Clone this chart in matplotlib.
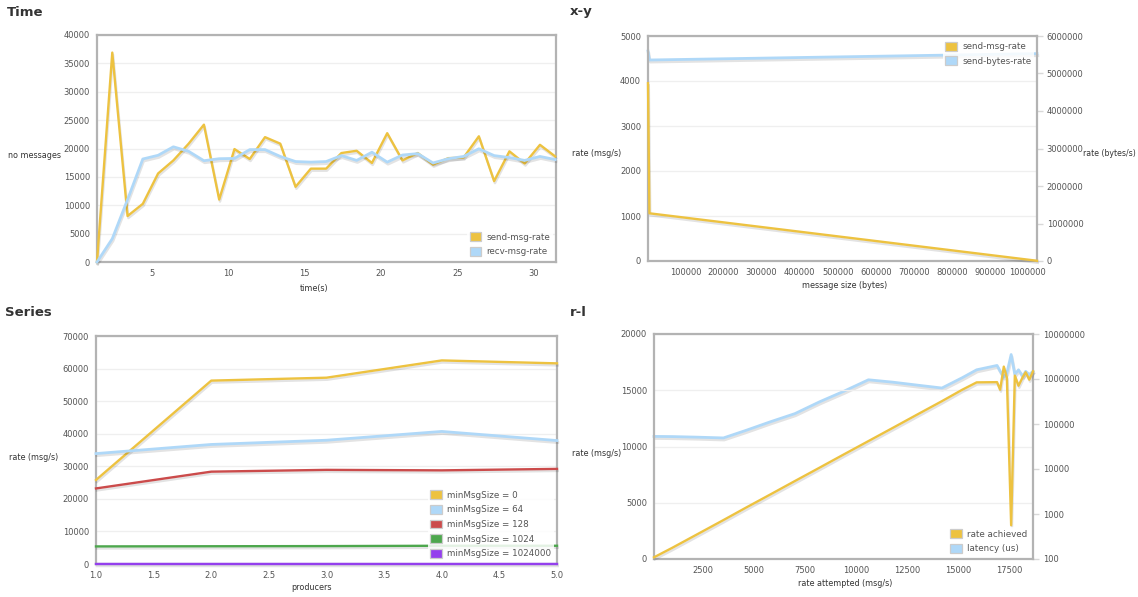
import matplotlib.pyplot as plt
import matplotlib.patheffects as pe
from matplotlib.patches import Patch
from matplotlib.ticker import FixedLocator, NullLocator, FuncFormatter

# flot default colours
YELLOW = '#edc240'
BLUE = '#afd8f8'
RED = '#cb4b4b'
GREEN = '#4da74d'
PURPLE = '#9440ed'

# --- Time ---
times = [1.4, 2.4, 3.4, 4.4, 5.4, 6.4, 7.4, 8.4, 9.4, 10.4, 11.4, 12.4, 13.4, 14.4, 15.4, 16.4,
         17.4, 18.4, 19.4, 20.4, 21.4, 22.4, 23.4, 24.4, 25.4, 26.4, 27.4, 28.4, 29.4, 30.4, 31.4]
send_rate = [0, 36900, 8100, 10250, 15600, 17900, 20850, 24200, 11000, 19900, 18150, 22000, 20850,
             13250, 16450, 16450, 19200, 19600, 17450, 22700, 17900, 19200, 17150, 18300, 18400,
             22150, 14250, 19500, 17350, 20650, 18600]
recv_rate = [0, 4100, 11000, 18150, 18800, 20300, 19500, 17850, 18200, 18250, 19800, 19800, 18600,
             17700, 17600, 17700, 18750, 17900, 19350, 17600, 18850, 19100, 17450, 18200, 18600,
             19950, 18750, 18400, 17900, 18600, 18050]

# --- x-y ---
msg_size = [1400, 5200, 1024000]
send_msg_rate = [3950, 1060, 5.4]
send_bytes_rate = [5600000, 5360000, 5530000]

# --- Series ---
producers = [1, 2, 3, 4, 5]
series_labels = ['minMsgSize = 0', 'minMsgSize = 64', 'minMsgSize = 128',
                 'minMsgSize = 1024', 'minMsgSize = 1024000']
rate_0 = [25800, 56300, 57200, 62500, 61600]
rate_64 = [33900, 36700, 38000, 40700, 37900]
rate_128 = [23200, 28350, 28900, 28750, 29200]
rate_1024 = [5400, 5450, 5500, 5600, 5600]
rate_1024000 = [5.4, 5.5, 5.5, 5.4, 5.5]

# --- r-l ---
rate_attempted = [100, 1000, 2200, 3500, 4600, 5800, 7000, 8200, 9400, 10600, 11800, 13000, 14200,
                  15200, 15900, 16900, 17050, 17230, 17380, 17590, 17770, 17950, 18160, 18300,
                  18480, 18660]
rate_achieved = [150, 1000, 2180, 3460, 4560, 5740, 6930, 8110, 9300, 10480, 11660, 12850, 14030,
                 15050, 15700, 15720, 15050, 17100, 16100, 3000, 16300, 15400, 16180, 16600,
                 15940, 16680]
latency = [53000, 52500, 51000, 49000, 72000, 112000, 170000, 310000, 535000, 960000, 850000,
           730000, 630000, 1070000, 1600000, 2000000, 1500000, 1100000, 1350000, 3500000,
           1260000, 1600000, 1150000, 1480000, 1260000, 1480000]

W, H = 1138, 597
fig = plt.figure(figsize=(W / 100, H / 100), dpi=100)
TXT = '#545454'
TICK_FS = 6.0
plain = FuncFormatter(lambda v, p: f'{int(round(v))}')


def box(l, t, r, b):
    return [l / W, 1 - b / H, (r - l) / W, (b - t) / H]


def text(x, y, s, **kw):
    fig.text(x / W, 1 - y / H, s, **kw)


shadow = [pe.SimpleLineShadow(offset=(0.6, -1.5), shadow_color='k', alpha=0.11), pe.Normal()]


def style(ax):
    for sp in ax.spines.values():
        sp.set_color('#b3b3b3')
        sp.set_linewidth(1.6)
    ax.tick_params(length=0, labelsize=TICK_FS, colors=TXT, pad=5)
    ax.grid(axis='y', color='#efefef', linewidth=0.9)
    ax.set_axisbelow(True)


def plot(ax, x, y, c, lw=1.7):
    ax.plot(x, y, color=c, lw=lw, path_effects=shadow, solid_joinstyle='round',
            clip_on=False, zorder=3)


def legend(ax, colors, labels, loc):
    hs = [Patch(facecolor=c, edgecolor='#cccccc', linewidth=0.9) for c in colors]
    lg = ax.legend(hs, labels, loc=loc, fontsize=6.3, frameon=True, framealpha=0.85,
                   facecolor='white', edgecolor='none', handlelength=1.35, handleheight=1.2,
                   handletextpad=0.6, labelspacing=0.6, borderaxespad=0.35, borderpad=0.3)
    for t in lg.get_texts():
        t.set_color(TXT)
    lg.set_zorder(10)


def right_axis(ax2):
    for sp in ax2.spines.values():
        sp.set_visible(False)
    ax2.tick_params(axis='y', length=4, width=1, color='#d8d8d8', labelsize=TICK_FS,
                    labelcolor=TXT, pad=3)


title_kw = dict(fontsize=9.5, fontweight='bold', color='#333333', va='center', ha='left')
lab_kw = dict(fontsize=5.8, color='#333333', va='center', ha='center')

# ---------------- Time ----------------
ax = fig.add_axes(box(97, 35, 556, 262))
style(ax)
plot(ax, times, send_rate, YELLOW)
plot(ax, times, recv_rate, BLUE, lw=2.0)
ax.set_xlim(times[0], 31.45)
ax.set_ylim(0, 40000)
ax.set_xticks([5, 10, 15, 20, 25, 30])
ax.set_yticks(range(0, 40001, 5000))
legend(ax, [YELLOW, BLUE], ['send-msg-rate', 'recv-msg-rate'], 'lower right')
text(7, 12, 'Time', **title_kw)
text(34, 155, 'no messages', **lab_kw)
text(314, 289, 'time(s)', **lab_kw)

# ---------------- x-y ----------------
ax = fig.add_axes(box(648, 36, 1037, 261))
style(ax)
ax2 = ax.twinx()
right_axis(ax2)
plot(ax2, msg_size, send_bytes_rate, BLUE, lw=2.0)
plot(ax, msg_size, send_msg_rate, YELLOW)
ax.set_zorder(ax2.get_zorder() + 1)
ax.patch.set_visible(False)
ax.set_xlim(msg_size[0], msg_size[-1])
ax.set_ylim(0, 5000)
ax2.set_ylim(0, 6000000)
ax.set_xticks(range(100000, 1000001, 100000))
ax.set_yticks(range(0, 5001, 1000))
ax2.set_yticks(range(0, 6000001, 1000000))
ax.xaxis.set_major_formatter(plain)
ax2.yaxis.set_major_formatter(plain)
legend(ax, [YELLOW, BLUE], ['send-msg-rate', 'send-bytes-rate'], 'upper right')
text(570, 12, 'x-y', **title_kw)
text(597, 154, 'rate (msg/s)', **lab_kw)
text(1083, 154, 'rate (bytes/s)', **dict(lab_kw, ha='left', fontsize=5.6))
text(845, 285, 'message size (bytes)', **lab_kw)

# ---------------- Series ----------------
ax = fig.add_axes(box(96, 336, 557, 564))
style(ax)
series_vals = [rate_0, rate_64, rate_128, rate_1024, rate_1024000]
series_cols = [YELLOW, BLUE, RED, GREEN, PURPLE]
for vals, c in zip(series_vals, series_cols):
    plot(ax, producers, vals, c, lw=2.0 if c == BLUE else 1.7)
ax.set_xlim(1, 5)
ax.set_ylim(0, 70000)
ax.set_xticks([1.0, 1.5, 2.0, 2.5, 3.0, 3.5, 4.0, 4.5, 5.0])
ax.xaxis.set_major_formatter(FuncFormatter(lambda v, p: f'{v:.1f}'))
ax.set_yticks(range(0, 70001, 10000))
legend(ax, series_cols, series_labels, 'lower right')
text(5, 313, 'Series', **title_kw)
text(34, 457, 'rate (msg/s)', **lab_kw)
text(312, 588, 'producers', **lab_kw)

# ---------------- r-l ----------------
ax = fig.add_axes(box(654, 334, 1033, 559))
style(ax)
ax2 = ax.twinx()
right_axis(ax2)
plot(ax2, rate_attempted, latency, BLUE, lw=2.0)
plot(ax, rate_attempted, rate_achieved, YELLOW)
ax.set_zorder(ax2.get_zorder() + 1)
ax.patch.set_visible(False)
ax.set_xlim(rate_attempted[0], rate_attempted[-1])
ax.set_ylim(0, 20000)
ax.set_xticks(range(2500, 17501, 2500))
ax.set_yticks(range(0, 20001, 5000))
ax2.set_yscale('log')
ax2.set_ylim(100, 10000000)
ax2.yaxis.set_major_locator(FixedLocator([1e2, 1e3, 1e4, 1e5, 1e6, 1e7]))
ax2.yaxis.set_minor_locator(NullLocator())
ax2.yaxis.set_major_formatter(plain)
legend(ax, [YELLOW, BLUE], ['rate achieved', 'latency (us)'], 'lower right')
text(570, 312, 'r-l', **title_kw)
text(597, 453, 'rate (msg/s)', **lab_kw)
text(845, 583, 'rate attempted (msg/s)', **lab_kw)

fig.savefig('out.png', dpi=100, facecolor='white')
